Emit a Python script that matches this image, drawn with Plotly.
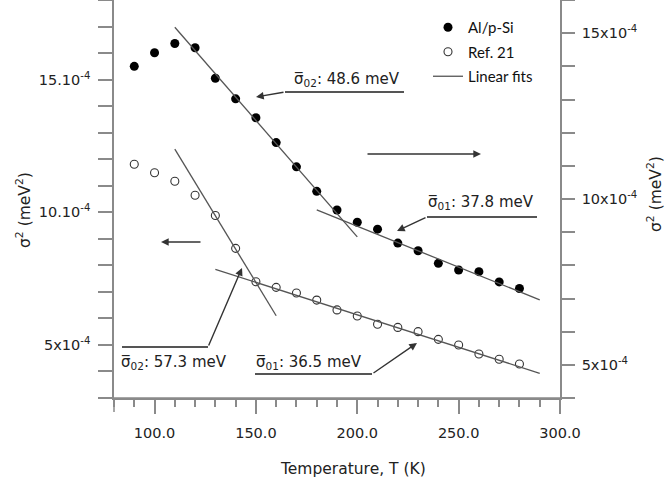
import plotly.graph_objects as go

# ---------------- data ----------------
temperature = [90, 100, 110, 120, 130, 140, 150, 160, 170, 180,
               190, 200, 210, 220, 230, 240, 250, 260, 270, 280]
al_psi = [14.00, 14.41, 14.69, 14.56, 13.64, 13.02, 12.45, 11.70, 10.97, 10.23,
          9.67, 9.30, 9.09, 8.67, 8.44, 8.06, 7.86, 7.81, 7.50, 7.30]   # right axis (x10^-4)
ref21 = [11.81, 11.49, 11.17, 10.64, 9.88, 8.64, 7.38, 7.17, 6.96, 6.69,
         6.32, 6.09, 5.78, 5.66, 5.50, 5.21, 5.00, 4.66, 4.46, 4.28]    # left axis (x10^-4)

# linear fits (end points)
al_fit_low_T = [110, 200]
al_fit_low_v = [15.18, 8.86]
al_fit_high_T = [180, 290]
al_fit_high_v = [9.67, 6.96]
ref_fit_low_T = [110, 160]
ref_fit_low_v = [12.38, 6.10]
ref_fit_high_T = [130, 290]
ref_fit_high_v = [7.85, 3.93]

x_tickvals = [100, 150, 200, 250, 300]
left_tickvals = [5, 10, 15]
left_ticktext = ["5x10<sup>-4</sup>", "10.10<sup>-4</sup>", "15.10<sup>-4</sup>"]
right_tickvals = [5, 10, 15]
right_ticktext = ["5x10<sup>-4</sup>", "10x10<sup>-4</sup>", "15x10<sup>-4</sup>"]

# ---------------- layout helpers ----------------
W, H = 669, 486
L, R, T, B = 114, 109, 0, 88
PW, PH = W - L - R, H - T - B


def px(x):
    return (x - L) / PW


def py(y):
    return (PH + T - y) / PH


FONT = "DejaVu Sans"
TXT = "#222222"
AX = "#8a8a8a"
FIT = "#555555"
TICKSIZE = 14.5
LABSIZE = 15
TITLESIZE = 15.5

fig = go.Figure()

fig.add_trace(go.Scatter(
    x=temperature, y=al_psi, mode="markers", name="Al/p-Si", yaxis="y2",
    marker=dict(symbol="circle", size=9, color="black", line=dict(width=0)),
    legendgroup="a"))
fig.add_trace(go.Scatter(
    x=temperature, y=ref21, mode="markers", name="Ref. 21", yaxis="y",
    marker=dict(symbol="circle-open", size=8, color="#333333", line=dict(width=1.1)),
    legendgroup="b"))

fits = [
    (al_fit_low_T, al_fit_low_v, "y2", True),
    (al_fit_high_T, al_fit_high_v, "y2", False),
    (ref_fit_low_T, ref_fit_low_v, "y", False),
    (ref_fit_high_T, ref_fit_high_v, "y", False),
]
for fx, fv, ax, show in fits:
    fig.add_trace(go.Scatter(
        x=fx, y=fv, mode="lines", yaxis=ax, name="Linear fits",
        line=dict(color=FIT, width=1.3), showlegend=show, legendgroup="c"))

fig.update_layout(
    width=W, height=H,
    margin=dict(l=L, r=R, t=T, b=B, pad=0),
    paper_bgcolor="white", plot_bgcolor="white",
    font=dict(family=FONT, size=13, color=TXT),
    showlegend=True,
    legend=dict(x=px(428), y=py(11), xanchor="left", yanchor="top",
                bgcolor="rgba(0,0,0,0)", font=dict(family="Lato", size=15, color="#111"),
                traceorder="grouped", tracegroupgap=2, itemwidth=30),
    xaxis=dict(range=[80, 300], tickvals=x_tickvals, tickformat=".1f",
               showgrid=False, zeroline=False, showline=True, linecolor=AX, linewidth=1.5,
               ticks="outside", ticklen=14, tickwidth=1.5, tickcolor=AX,
               minor=dict(dtick=10, tick0=0, ticks="outside", ticklen=7, tickwidth=1.5, tickcolor=AX),
               ticklabelstandoff=7,
               tickfont=dict(size=TICKSIZE, color=TXT)),
    yaxis=dict(range=[3, 18], tickvals=left_tickvals, ticktext=left_ticktext,
               showgrid=False, zeroline=False, showline=True, linecolor=AX, linewidth=1.5,
               ticks="outside", ticklen=14, tickwidth=1.5, tickcolor=AX,
               minor=dict(dtick=1, tick0=0, ticks="outside", ticklen=14, tickwidth=1.5, tickcolor=AX),
               ticklabelstandoff=5,
               tickfont=dict(size=TICKSIZE, color=TXT)),
    yaxis2=dict(range=[4, 16], tickvals=right_tickvals, ticktext=right_ticktext,
                overlaying="y", side="right", anchor="x",
                showgrid=False, zeroline=False, showline=True, linecolor=AX, linewidth=1.5,
                ticks="outside", ticklen=13, tickwidth=1.5, tickcolor=AX,
                minor=dict(dtick=1, tick0=0, ticks="outside", ticklen=13, tickwidth=1.5, tickcolor=AX),
                ticklabelstandoff=4,
                tickfont=dict(size=TICKSIZE, color=TXT)),
)

# axis extensions (axis crossing stubs)
shapes = [
    dict(type="line", xref="paper", yref="paper", x0=px(107), y0=py(398), x1=px(568), y1=py(398),
         line=dict(color=AX, width=1.5)),
    dict(type="line", xref="paper", yref="paper", x0=px(114), y0=py(398), x1=px(114), y1=py(412),
         line=dict(color=AX, width=1.5)),
    dict(type="line", xref="paper", yref="paper", x0=px(560), y0=py(398), x1=px(560), y1=py(412),
         line=dict(color=AX, width=1.5)),
]

# label underline / leader lines
leaders = [
    ((285, 92), (404, 92)),
    ((427, 217), (537, 217)),
    ((122, 347), (208, 347)),
    ((255, 374), (372, 374)),
]
for (x0, y0), (x1, y1) in leaders:
    shapes.append(dict(type="line", xref="paper", yref="paper",
                       x0=px(x0), y0=py(y0), x1=px(x1), y1=py(y1),
                       line=dict(color="#555555", width=1.8)))
fig.update_layout(shapes=shapes)

# arrows: (tail, head)
arrows = [
    ((285, 92), (256, 97)),
    ((427, 217), (397, 231)),
    ((208, 347), (242, 268)),
    ((372, 374), (417, 343)),
    ((366, 154), (481, 154)),
    ((202, 242), (161, 242)),
]
for (tx, ty), (hx, hy) in arrows:
    fig.add_annotation(xref="paper", yref="paper", x=px(hx), y=py(hy),
                       ax=tx - hx, ay=ty - hy, axref="pixel", ayref="pixel",
                       text="", showarrow=True, arrowhead=2, arrowsize=1.1,
                       arrowwidth=1.4, arrowcolor="#333333", standoff=0, startstandoff=0)

labels = [
    ("σ\u0305<sub>02</sub>: 48.6 meV", 292, 79),
    ("σ\u0305<sub>01</sub>: 37.8 meV", 426, 202),
    ("σ\u0305<sub>02</sub>: 57.3 meV", 119, 362),
    ("σ\u0305<sub>01</sub>: 36.5 meV", 254, 362),
]
for txt, lx, ly in labels:
    fig.add_annotation(xref="paper", yref="paper", x=px(lx), y=py(ly),
                       xanchor="left", yanchor="middle", text=txt, showarrow=False,
                       font=dict(family=FONT, size=LABSIZE, color=TXT))

# axis titles
fig.add_annotation(xref="paper", yref="paper", x=px(353), y=py(469),
                   xanchor="center", yanchor="middle", text="Temperature, T (K)",
                   showarrow=False, font=dict(family=FONT, size=TITLESIZE, color=TXT))
fig.add_annotation(xref="paper", yref="paper", x=px(24), y=py(210),
                   xanchor="center", yanchor="middle", textangle=-90,
                   text="σ<sup>2</sup> (meV<sup>2</sup>)",
                   showarrow=False, font=dict(family=FONT, size=TITLESIZE, color=TXT))
fig.add_annotation(xref="paper", yref="paper", x=px(654), y=py(194),
                   xanchor="center", yanchor="middle", textangle=-90,
                   text="σ<sup>2</sup> (meV<sup>2</sup>)",
                   showarrow=False, font=dict(family=FONT, size=TITLESIZE, color=TXT))

fig.write_html("out.html")
